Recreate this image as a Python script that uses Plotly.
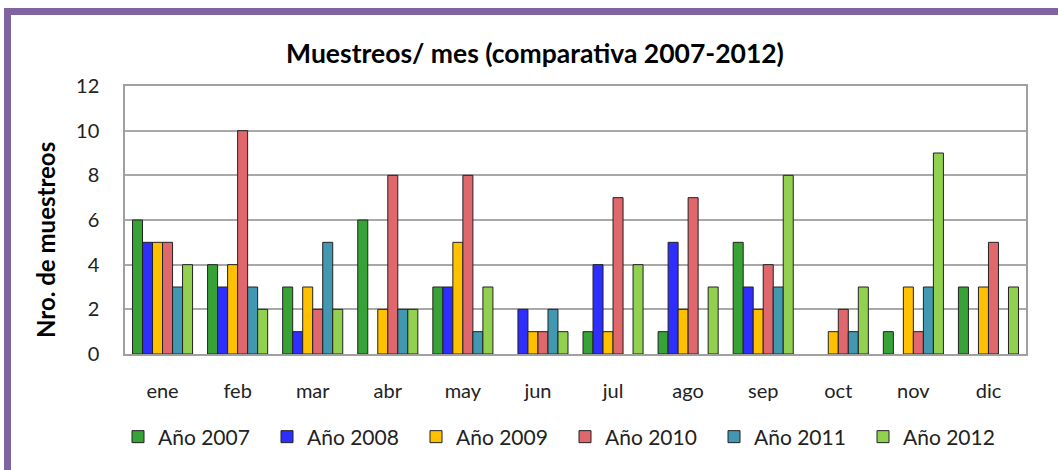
import plotly.graph_objects as go

months = ["ene", "feb", "mar", "abr", "may", "jun", "jul", "ago", "sep", "oct", "nov", "dic"]
series_names = ["Año 2007", "Año 2008", "Año 2009", "Año 2010", "Año 2011", "Año 2012"]
y2007 = [6, 4, 3, 6, 3, 0, 1, 1, 5, 0, 1, 3]
y2008 = [5, 3, 1, 0, 3, 2, 4, 5, 3, 0, 0, 0]
y2009 = [5, 4, 3, 2, 5, 1, 1, 2, 2, 1, 3, 3]
y2010 = [5, 10, 2, 8, 8, 1, 7, 7, 4, 2, 1, 5]
y2011 = [3, 3, 5, 2, 1, 2, 0, 0, 3, 1, 3, 0]
y2012 = [4, 2, 2, 2, 3, 1, 4, 3, 8, 3, 9, 3]
colors = ["#37A337", "#2E2EFF", "#FFC000", "#E0676B", "#4198B0", "#92D050"]
y_ticks = [0, 2, 4, 6, 8, 10, 12]

fig = go.Figure()
for name, vals, col in zip(series_names, [y2007, y2008, y2009, y2010, y2011, y2012], colors):
    shown = [v if v != 0 else None for v in vals]
    fig.add_trace(go.Bar(x=months, y=shown, name=name,
                         marker=dict(color=col, line=dict(color="#222222", width=1))))

W, H = 1058, 470
ml, mr, mt, mb = 125, 32, 86, 116
pw, ph = W - ml - mr, H - mt - mb

def px_x(x):
    return (x - ml) / pw

def px_y(y):
    return (H - mb - y) / ph

purple = "#8064A2"
shapes = [
    dict(type="rect", xref="paper", yref="paper", x0=px_x(4), x1=px_x(11), y0=px_y(475), y1=px_y(8),
         fillcolor=purple, line=dict(width=0), layer="above"),
    dict(type="rect", xref="paper", yref="paper", x0=px_x(4), x1=px_x(1065), y0=px_y(15), y1=px_y(8),
         fillcolor=purple, line=dict(width=0), layer="above"),
]

annotations = [
    dict(text="<b>Nro. de muestreos</b>", xref="paper", yref="paper", x=px_x(45), y=px_y(240),
         xanchor="center", yanchor="middle", textangle=-90, showarrow=False,
         font=dict(size=24, color="#000000")),
]

fig.update_layout(
    width=W, height=H,
    margin=dict(l=ml, r=mr, t=mt, b=mb, autoexpand=False),
    paper_bgcolor="white", plot_bgcolor="white",
    barmode="group", bargap=0.2, bargroupgap=0,
    font=dict(family="Lato", color="#222222"),
    title=dict(text="<b>Muestreos/ mes (comparativa 2007-2012)</b>", x=px_x(535), xanchor="center",
               xref="paper", y=1 - 54 / H, yanchor="middle", font=dict(size=26.5, color="#000000")),
    xaxis=dict(showgrid=False, ticks="", tickfont=dict(size=20, color="#222222"), automargin=False,
               ticklabelstandoff=18,
               showline=True, linecolor="#A0A0A0", linewidth=1.5, mirror=True),
    yaxis=dict(range=[0, 12], tickvals=y_ticks, showgrid=True, gridcolor="#A8A8A8", gridwidth=1.5,
               tickfont=dict(size=20, color="#222222"), ticks="", automargin=False,
               ticklabelstandoff=20,
               showline=True, linecolor="#A0A0A0", linewidth=1.5, mirror=True),
    legend=dict(orientation="h", x=px_x(118), xanchor="left", y=px_y(437), yanchor="middle",
                font=dict(size=21, color="#222222"), entrywidth=104, itemwidth=30,
                bgcolor="rgba(0,0,0,0)", traceorder="normal"),
    hovermode=False,
    annotations=annotations,
    shapes=shapes,
)

fig.write_html("out.html", config={"displayModeBar": False},
               post_script="document.body.style.margin='0';")
